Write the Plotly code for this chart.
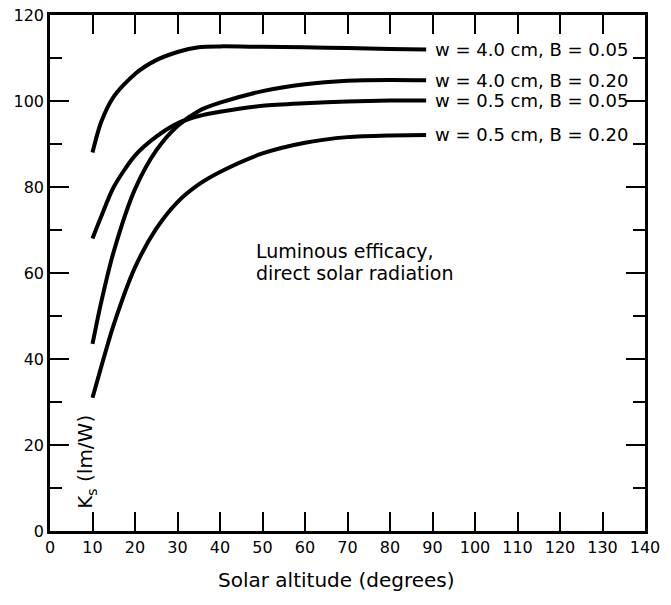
import plotly.graph_objects as go

# Solar altitude (degrees)
alt = [10, 12, 15, 20, 25, 30, 35, 40, 50, 60, 70, 80, 88.5]

# Luminous efficacy K_s (lm/W)
k_w40_b005 = [88.0, 95.0, 101.0, 106.3, 109.5, 111.4, 112.5, 112.7, 112.6, 112.5, 112.3, 112.1, 112.0]
k_w40_b020 = [43.5, 53.0, 65.0, 79.5, 88.5, 94.2, 97.7, 99.6, 102.3, 103.9, 104.7, 104.9, 104.8]
k_w05_b005 = [68.0, 73.0, 80.0, 87.3, 91.7, 94.8, 96.5, 97.5, 98.9, 99.5, 99.9, 100.1, 100.1]
k_w05_b020 = [31.0, 38.0, 48.0, 61.3, 70.3, 76.5, 80.6, 83.5, 87.8, 90.3, 91.6, 92.0, 92.1]

series = [
    ("w = 4.0 cm, B = 0.05", k_w40_b005),
    ("w = 4.0 cm, B = 0.20", k_w40_b020),
    ("w = 0.5 cm, B = 0.05", k_w05_b005),
    ("w = 0.5 cm, B = 0.20", k_w05_b020),
]

x_ticks = list(range(0, 141, 10))
y_ticks = list(range(0, 121, 20))

FONT = "DejaVu Sans"

fig = go.Figure()
annotations = []
for name, vals in series:
    fig.add_trace(go.Scatter(
        x=alt, y=vals, mode="lines", name=name,
        line=dict(color="black", width=4, shape="spline", smoothing=0.8),
        showlegend=False, hoverinfo="skip",
    ))
    annotations.append(dict(
        x=alt[-1] + 1.7, y=vals[-1], xref="x", yref="y", text=name,
        showarrow=False, xanchor="left", yanchor="middle",
        font=dict(family=FONT, size=18, color="black"),
    ))

for txt, yv in [("Luminous efficacy,", 65.1), ("direct solar radiation", 59.9)]:
    annotations.append(dict(
        x=47.9, y=yv, xref="x", yref="y", text=txt,
        showarrow=False, xanchor="left", yanchor="middle", align="left",
        font=dict(family=FONT, size=19, color="black"),
    ))
annotations.append(dict(
    x=8.6, y=16, xref="x", yref="y",
    text="K<sub>s</sub> (lm/W)", textangle=-90,
    showarrow=False, xanchor="center", yanchor="middle",
    font=dict(family=FONT, size=20, color="black"),
))
annotations.append(dict(
    x=67.5, y=-0.095, xref="x", yref="paper",
    text="Solar altitude (degrees)",
    showarrow=False, xanchor="center", yanchor="middle",
    font=dict(family=FONT, size=20, color="black"),
))

fig.update_layout(
    width=663, height=597,
    margin=dict(l=42, r=26, t=7, b=74, autoexpand=False),
    paper_bgcolor="white", plot_bgcolor="white",
    font=dict(family=FONT, size=16, color="black"),
    annotations=annotations,
    xaxis=dict(
        range=[0, 140], tickvals=x_ticks, ticktext=[str(v) for v in x_ticks],
        ticks="inside", ticklen=19, tickwidth=2, tickcolor="black",
        showline=True, linecolor="black", linewidth=2.5, mirror="ticks",
        showgrid=False, zeroline=False, automargin=False,
        ticklabeloverflow="allow",
        tickfont=dict(family=FONT, size=16, color="black"),
    ),
    yaxis=dict(
        range=[0, 120], tickvals=y_ticks, ticktext=[str(v) for v in y_ticks],
        ticks="inside", ticklen=19, tickwidth=2, tickcolor="black",
        minor=dict(dtick=10, tick0=0, ticks="inside", ticklen=12, tickwidth=2, tickcolor="black"),
        showline=True, linecolor="black", linewidth=2.5, mirror="ticks",
        showgrid=False, zeroline=False, automargin=False,
        ticklabeloverflow="allow",
        tickfont=dict(family=FONT, size=16, color="black"),
    ),
)

fig.write_html("out.html")
